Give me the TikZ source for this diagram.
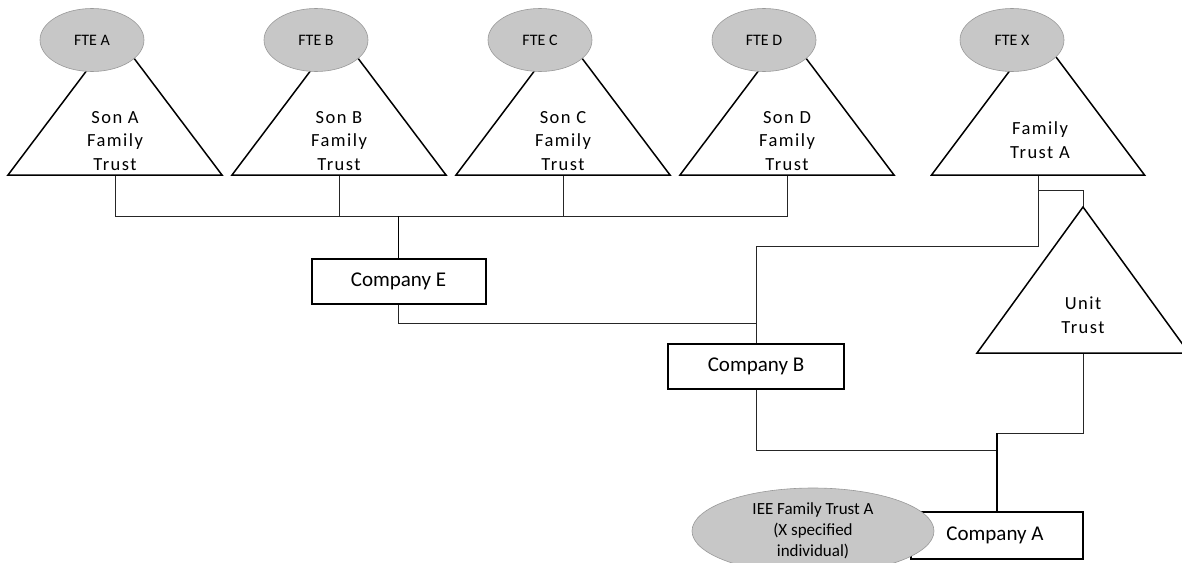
\documentclass[tikz,border=0pt]{standalone}
\usepackage{fontspec}
\setmainfont{Carlito}
\newfontfamily\spc[LetterSpace=8]{Carlito}
\usetikzlibrary{shapes.geometric}
\begin{document}
\begin{tikzpicture}[x=1pt,y=-1pt,
  tri/.style={draw=black,line width=1.5pt,fill=white,line join=miter},
  fte/.style={ellipse,draw=black!40,fill=black!22,line width=0.6pt,minimum width=104pt,minimum height=63pt,inner sep=0pt,font=\fontsize{16}{19}\selectfont},
  iee/.style={ellipse,draw=black!40,fill=black!22,line width=0.6pt,minimum width=242pt,minimum height=86pt,inner sep=0pt,align=center,font=\fontsize{17}{21}\selectfont},
  co/.style={draw=black,line width=2pt,fill=white,minimum height=45pt,inner sep=0pt,font=\fontsize{21}{25}\selectfont},
  ttxt/.style={align=center,font=\spc\fontsize{18.5}{23.5}\selectfont,inner sep=0pt},
  link/.style={draw=black!85,line width=0.8pt},
  mainlink/.style={draw=black,line width=1.5pt}]
\useasboundingbox (0,0) rectangle (1182,562);
\clip (0,0) rectangle (1182,562);

% named points
\coordinate (bA) at (115,175);
\coordinate (bB) at (339,175);
\coordinate (bC) at (563,175);
\coordinate (bD) at (787,175);
\coordinate (bX) at (1038,175);
\coordinate (hA) at (115,216);
\coordinate (hB) at (339,216);
\coordinate (hC) at (563,216);
\coordinate (hD) at (787,216);
\coordinate (kX) at (1038,246);
\coordinate (kX2) at (1038,190);
\coordinate (apU) at (1083,207);
\coordinate (bU) at (1083,353);
\coordinate (kU) at (997,433);
\coordinate (kA) at (997,450);

% company boxes
\node[co,minimum width=174pt] (coE) at (398.5,281.5) {Company E};
\node[co,minimum width=176pt] (coB) at (756,366) {Company B};

% connectors
\draw[link] (bA) -- (hA) -- (hD) -- (bD);
\draw[link] (bB) -- (hB);
\draw[link] (bC) -- (hC);
\draw[mainlink] (coE.north) -- (coE.north |- hA);
\draw[link] (coE.south) -- ++(0,18) -| (coB.north);
\draw[link] (bX) -- (kX) -| (coB.north);
\draw[link] (kX2) -| (apU);
\draw[link] (coB.south) |- (kA);
\draw[link] (bU) |- (kU);

% triangles
\path[tri] (8,175) -- (115,33) -- (222,175) -- cycle;
\path[tri] (232,175) -- (339,33) -- (446,175) -- cycle;
\path[tri] (456,175) -- (563,33) -- (670,175) -- cycle;
\path[tri] (680,175) -- (787,33) -- (894,175) -- cycle;
\path[tri] (931.5,175) -- (1038,33) -- (1144.5,175) -- cycle;
\path[tri] (977,353) -- (apU) -- (1189,353) -- cycle;

\node[ttxt] (tA) at (115,141) {Son A\\Family\\Trust};
\node[ttxt] (tB) at (339,141) {Son B\\Family\\Trust};
\node[ttxt] (tC) at (563,141) {Son C\\Family\\Trust};
\node[ttxt] (tD) at (787,141) {Son D\\Family\\Trust};
\node[ttxt] (tX) at (1040,140) {Family\\Trust A};
\node[ttxt] (tU) at (1083,315) {Unit\\Trust};

% ellipses
\node[fte] (eA) at (92,40) {FTE A};
\node[fte] (eB) at (316,40) {FTE B};
\node[fte] (eC) at (540,40) {FTE C};
\node[fte] (eD) at (764,40) {FTE D};
\node[fte] (eX) at (1012,40) {FTE X};

% company A and IEE
\node[co,minimum width=172pt,minimum height=47pt] (coA) at (997,535.5) {\hspace*{-4pt}Company A};
\draw[mainlink] (kU) -- (coA.north);
\node[iee] (eI) at (813,531) {IEE Family Trust A\\(X specified\\individual)};
\end{tikzpicture}
\end{document}
